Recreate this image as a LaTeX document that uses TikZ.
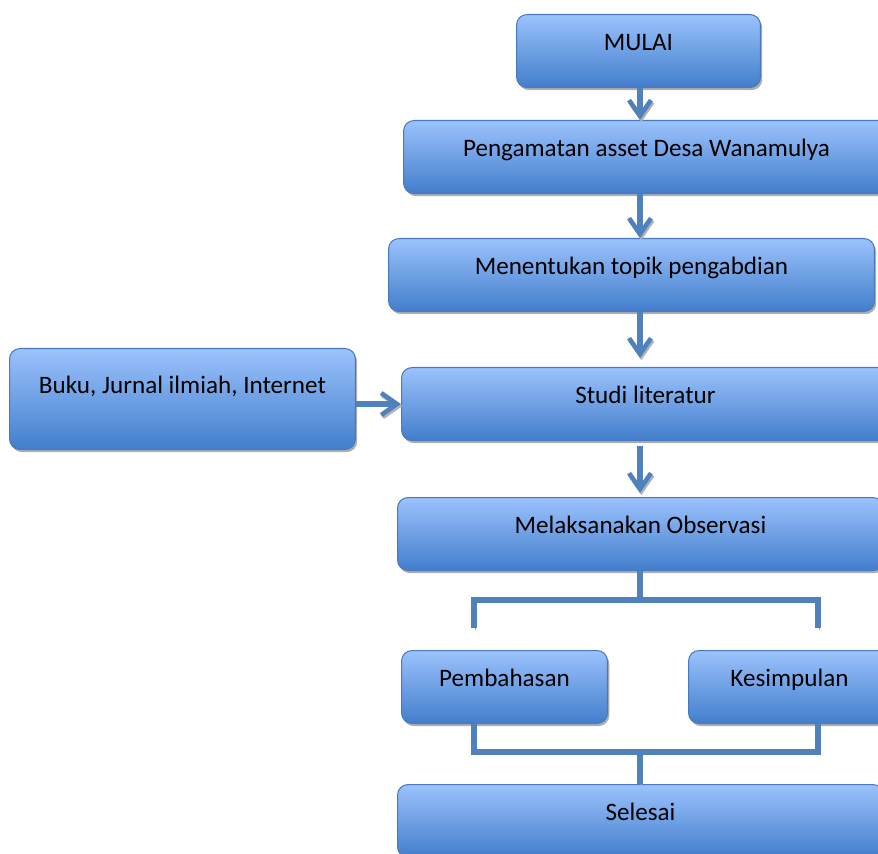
\documentclass[tikz,border=0pt]{standalone}
\usepackage{fontspec}
\setmainfont{Carlito}
\usetikzlibrary{arrows.meta,shadows}
\definecolor{biruatas}{RGB}{155,194,252}
\definecolor{birubawah}{RGB}{66,126,204}
\definecolor{birutepi}{RGB}{74,122,190}
\definecolor{birugaris}{RGB}{79,129,189}
\tikzset{
  kotak/.style={draw=birutepi, line width=0.6pt, rounded corners=6pt,
    top color=biruatas, bottom color=birubawah, anchor=north west,
    inner xsep=0pt, inner ysep=0pt, text height=0.72cm, text depth=0.74cm,
    font=\fontsize{14.3}{17}\selectfont,
    drop shadow={shadow xshift=1pt, shadow yshift=-1.5pt, fill=black!45, opacity=.7}},
  garis/.style={draw=birugaris, line width=3pt,
    preaction={draw=black!30, transform canvas={shift={(0.8pt,-1.2pt)}}}},
  panah/.style={garis, -{Straight Barb[length=9pt,width=12.5pt,line width=2.6pt]}}
}
\begin{document}
\begin{tikzpicture}[x=0.02cm,y=-0.02cm]
  \useasboundingbox (0,0) rectangle (878,854);
  % kotak-kotak
  \node[kotak, minimum width=4.88cm] (mulai) at (516,14) {MULAI};
  \node[kotak, minimum width=9.72cm] (amat) at (403,120) {Pengamatan asset Desa Wanamulya};
  \node[kotak, minimum width=9.72cm] (tentu) at (388,238) {Menentukan topik pengabdian};
  \node[kotak, minimum width=6.92cm, text height=0.9cm, text depth=1.12cm] (buku) at (9,348) {Buku, Jurnal ilmiah, Internet};
  \node[kotak, minimum width=9.76cm] (studi) at (401,367) {Studi literatur};
  \node[kotak, minimum width=9.72cm] (obs) at (397,497) {Melaksanakan Observasi};
  \node[kotak, minimum width=4.12cm] (bahas) at (401,650) {Pembahasan};
  \node[kotak, minimum width=4.04cm] (simpul) at (688,650) {Kesimpulan};
  \node[kotak, minimum width=9.72cm] (selesai) at (397,784) {Selesai};
  % titik bantu
  \coordinate (c1) at (640,600);
  \coordinate (kiri1) at (474,628);
  \coordinate (kanan1) at (818,628);
  \coordinate (kiri2) at (474,752);
  \coordinate (kanan2) at (818,752);
  % panah
  \draw[panah] (mulai.south -| c1) -- (amat.north -| c1);
  \draw[panah] (amat.south -| c1) -- (tentu.north -| c1);
  \draw[panah, shorten >=0.18cm] (tentu.south -| c1) -- (studi.north -| c1);
  \draw[panah, shorten <=0.1cm, shorten >=0.08cm] (studi.south -| c1) -- (obs.north -| c1);
  \draw[panah] (buku.east |- studi) -- (studi.west);
  % cabang
  \draw[garis] (obs.south -| c1) -- (c1);
  \draw[garis] (kiri1) -- (kiri1 |- c1) -- (kanan1 |- c1) -- (kanan1);
  \draw[garis] (bahas.south -| kiri2) -- (kiri2) -- (kanan2) -- (simpul.south -| kanan2);
  \draw[garis] (c1 |- kiri2) -- (selesai.north -| c1);
\end{tikzpicture}
\end{document}
